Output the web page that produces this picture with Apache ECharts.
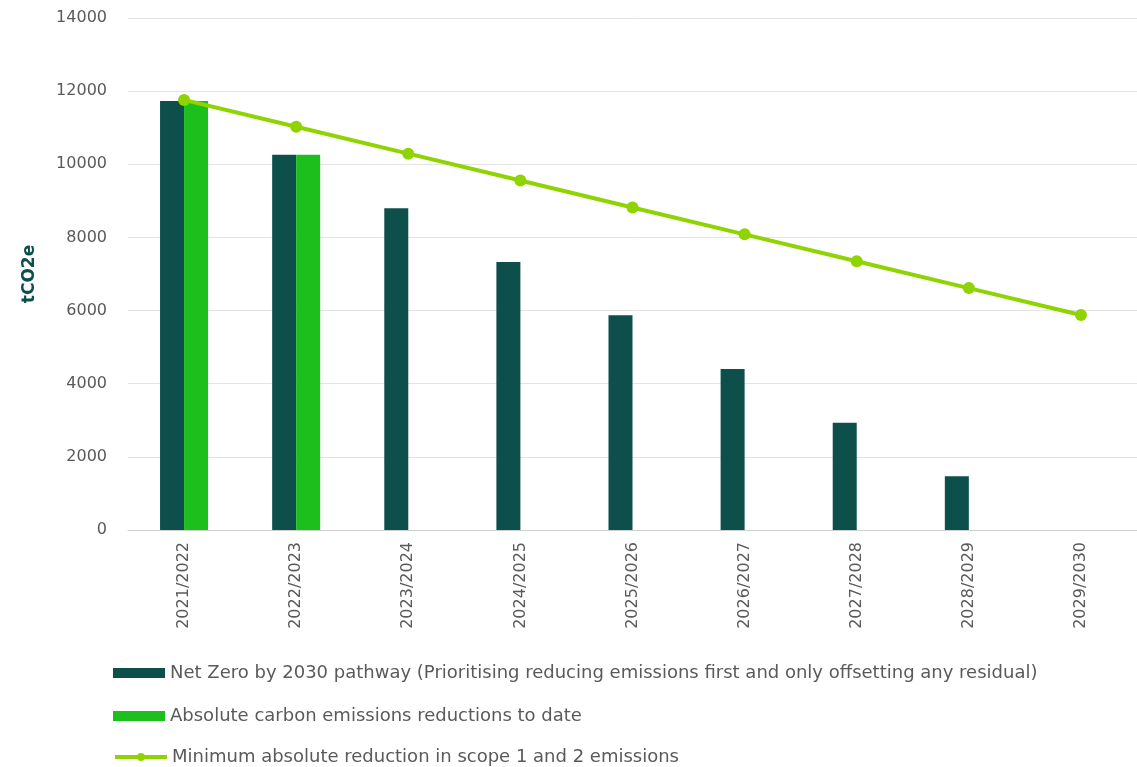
<!DOCTYPE html>
<html>
<head>
<meta charset="utf-8">
<script src="https://cdn.jsdelivr.net/npm/echarts@6/dist/echarts.min.js"></script>
<style>
  html, body { margin: 0; padding: 0; background: #fff; }
  #chart { width: 1137px; height: 767px; }
</style>
</head>
<body>
<div id="chart"></div>
<script>
// years on the x axis
let years = ['2021/2022', '2022/2023', '2023/2024', '2024/2025', '2025/2026', '2026/2027', '2027/2028', '2028/2029', '2029/2030'];
// net zero pathway bars
let netZero = [11730, 10260, 8800, 7330, 5870, 4400, 2930, 1470, 0];
// actual reductions so far
let toDate = [11730, 10260, null, null, null, null, null, null, null];
// minimum reduction line
let minReduction = [11760, 11025, 10290, 9555, 8820, 8085, 7350, 6615, 5880];

let names = [
  'Net Zero by 2030 pathway (Prioritising reducing emissions first and only offsetting any residual)',
  'Absolute carbon emissions reductions to date',
  'Minimum absolute reduction in scope 1 and 2 emissions'
];

let font = '"DejaVu Sans", sans-serif';
let legendTops = [659, 702, 743];
let legendIcons = ['rect', 'rect', undefined];

let option = {
  animation: false,
  textStyle: { fontFamily: font },
  grid: {
    left: 128,
    width: 1014,
    top: 18,
    bottom: 237
  },
  legend: names.map(function (n, i) {
    return {
      orient: 'vertical',
      left: 108,
      top: legendTops[i],
      itemWidth: 52,
      itemHeight: 10,
      itemGap: 5,
      icon: legendIcons[i],
      lineStyle: { width: 4 },
      textStyle: { fontSize: 18, color: '#5a5a5a', fontFamily: font },
      data: [{ name: n }]
    };
  }),
  xAxis: {
    type: 'category',
    data: years,
    axisLine: { lineStyle: { color: '#d0d0d0' } },
    axisTick: { show: false },
    axisLabel: { rotate: 90, fontSize: 16, color: '#5a5a5a', margin: 12 }
  },
  yAxis: {
    type: 'value',
    min: 0,
    max: 14000,
    interval: 2000,
    name: 'tCO2e',
    nameLocation: 'middle',
    nameGap: 90,
    nameTextStyle: { fontSize: 17, fontWeight: 'bold', color: '#0d4f4a' },
    axisLabel: {
      fontSize: 16,
      color: '#5a5a5a',
      margin: 21,
      formatter: function (v) { return String(v); }
    },
    splitLine: { lineStyle: { color: '#e3e3e3' } }
  },
  series: [
    {
      name: names[0],
      type: 'bar',
      data: netZero,
      barWidth: 24,
      barGap: '0%',
      itemStyle: { color: '#0d4f4a' }
    },
    {
      name: names[1],
      type: 'bar',
      data: toDate,
      barWidth: 24,
      itemStyle: { color: '#1cbf1c' }
    },
    {
      name: names[2],
      type: 'line',
      data: minReduction,
      symbol: 'circle',
      symbolSize: 12,
      lineStyle: { width: 4, color: '#8fd400' },
      itemStyle: { color: '#8fd400' }
    }
  ]
};

var chartDom = document.getElementById('chart');
var chart = echarts.init(chartDom);
chart.setOption(option);
</script>
</body>
</html>
